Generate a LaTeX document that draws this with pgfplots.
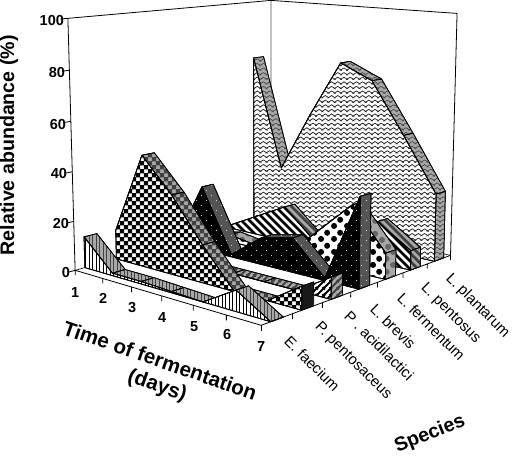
\documentclass[border=0pt]{standalone}
\usepackage{fontspec}
\setmainfont{Liberation Sans}
\usepackage{pgfplots}
\pgfplotsset{compat=1.18}
\usetikzlibrary{patterns}
% ---------- fill patterns (1pt = 1 reference pixel); boxes overlap the tile to avoid seams
\pgfdeclarepatternformonly{vlines}{\pgfqpoint{-1pt}{-1pt}}{\pgfqpoint{4.5pt}{4.5pt}}{\pgfqpoint{3.5pt}{3.5pt}}{
  \pgfsetlinewidth{1.2pt}\pgfpathmoveto{\pgfqpoint{1.7pt}{-1pt}}\pgfpathlineto{\pgfqpoint{1.7pt}{4.5pt}}\pgfusepath{stroke}}
\pgfdeclarepatternformonly{checker}{\pgfqpoint{-0.5pt}{-0.5pt}}{\pgfqpoint{8.5pt}{8.5pt}}{\pgfqpoint{8pt}{8pt}}{
  \pgfpathrectangle{\pgfqpoint{0pt}{0pt}}{\pgfqpoint{4.1pt}{4.1pt}}
  \pgfpathrectangle{\pgfqpoint{4pt}{4pt}}{\pgfqpoint{4.1pt}{4.1pt}}\pgfusepath{fill}}
\pgfdeclarepatternformonly{fwd}{\pgfqpoint{0pt}{0pt}}{\pgfqpoint{6.5pt}{6.5pt}}{\pgfqpoint{6.5pt}{6.5pt}}{
  \pgfsetlinewidth{2pt}\pgfpathmoveto{\pgfqpoint{-1pt}{-1pt}}\pgfpathlineto{\pgfqpoint{7.5pt}{7.5pt}}
  \pgfpathmoveto{\pgfqpoint{-1pt}{5.5pt}}\pgfpathlineto{\pgfqpoint{1pt}{7.5pt}}
  \pgfpathmoveto{\pgfqpoint{5.5pt}{-1pt}}\pgfpathlineto{\pgfqpoint{7.5pt}{1pt}}\pgfusepath{stroke}}
\pgfdeclarepatternformonly{bwd}{\pgfqpoint{0pt}{0pt}}{\pgfqpoint{8pt}{8pt}}{\pgfqpoint{8pt}{8pt}}{
  \pgfsetlinewidth{2.6pt}\pgfpathmoveto{\pgfqpoint{-1pt}{9pt}}\pgfpathlineto{\pgfqpoint{9pt}{-1pt}}
  \pgfpathmoveto{\pgfqpoint{-1pt}{1pt}}\pgfpathlineto{\pgfqpoint{1pt}{-1pt}}
  \pgfpathmoveto{\pgfqpoint{7pt}{9pt}}\pgfpathlineto{\pgfqpoint{9pt}{7pt}}\pgfusepath{stroke}}
\pgfdeclarepatternformonly{tiny}{\pgfqpoint{0pt}{0pt}}{\pgfqpoint{10pt}{10pt}}{\pgfqpoint{10pt}{10pt}}{
  \pgfpathcircle{\pgfqpoint{2.5pt}{2.5pt}}{0.55pt}\pgfpathcircle{\pgfqpoint{7.5pt}{7.5pt}}{0.55pt}\pgfusepath{fill}}
\pgfdeclarepatternformonly{bigdots}{\pgfqpoint{0pt}{0pt}}{\pgfqpoint{12.6pt}{12.6pt}}{\pgfqpoint{12.6pt}{12.6pt}}{
  \pgfpathcircle{\pgfqpoint{3.15pt}{3.15pt}}{3.1pt}\pgfpathcircle{\pgfqpoint{9.45pt}{9.45pt}}{3.1pt}\pgfusepath{fill}}
\pgfdeclarepatternformonly{wave}{\pgfqpoint{-1pt}{-1pt}}{\pgfqpoint{7.2pt}{5.6pt}}{\pgfqpoint{6.2pt}{4.6pt}}{
  \pgfsetlinewidth{0.75pt}\pgfpathmoveto{\pgfqpoint{-1pt}{0.4pt}}\pgfpathlineto{\pgfqpoint{0pt}{1pt}}\pgfpathlineto{\pgfqpoint{3.1pt}{3pt}}\pgfpathlineto{\pgfqpoint{6.2pt}{1pt}}\pgfpathlineto{\pgfqpoint{7.2pt}{0.4pt}}\pgfusepath{stroke}}
\definecolor{bandgray}{gray}{0.66}
\definecolor{darkband}{gray}{0.33}
% ---------- one polygon: day, species index, back flag (0 front face, 1 back face), abundance
\newcommand\Poly[2]{\addplot[forget plot,line join=round,#1] table[row sep=\\,
   x expr={pX(\thisrow{d},\thisrow{s}+0.3+0.4*\thisrow{b},\thisrow{z})},
   y expr={pY(\thisrow{d},\thisrow{s}+0.3+0.4*\thisrow{b},\thisrow{z})}] {d s b z\\ #2};}
\newcommand\Q[6]{\Poly{draw=black,line width=0.7pt,#6}{#2 #1 0 #3\\ #4 #1 0 #5\\ #4 #1 1 #5\\ #2 #1 1 #3\\ #2 #1 0 #3\\}}
% ---------- #1 species index, #2..#8 abundance on days 1..7, #9 style prefix
\newcommand\Series[9]{%
  \Q{#1}{1}{#2}{2}{#3}{band#9}\Q{#1}{2}{#3}{3}{#4}{band#9}\Q{#1}{3}{#4}{4}{#5}{band#9}%
  \Q{#1}{4}{#5}{5}{#6}{band#9}\Q{#1}{5}{#6}{6}{#7}{band#9}\Q{#1}{6}{#7}{7}{#8}{band#9}%
  \Poly{draw=black,line width=0.7pt,end#9}{7 #1 0 0\\ 7 #1 1 0\\ 7 #1 1 #8\\ 7 #1 0 #8\\ 7 #1 0 0\\}%
  \Poly{draw=black,line width=0.8pt,front#9}{1 #1 0 0\\ 1 #1 0 #2\\ 2 #1 0 #3\\ 3 #1 0 #4\\ 4 #1 0 #5\\ 5 #1 0 #6\\ 6 #1 0 #7\\ 7 #1 0 #8\\ 7 #1 0 0\\ 1 #1 0 0\\}%
}
\tikzset{
 frontA/.style={preaction={fill=white},pattern=vlines},
 bandA/.style={preaction={fill=bandgray},pattern=vlines,pattern color=black!75},
 endA/.style={preaction={fill=bandgray},pattern=vlines,pattern color=black!75},
 frontB/.style={preaction={fill=white},pattern=checker},
 bandB/.style={preaction={fill=bandgray},pattern=checker,pattern color=black!75},
 endB/.style={fill=black!90},
 frontC/.style={preaction={fill=white},pattern=fwd},
 bandC/.style={preaction={fill=bandgray},pattern=fwd,pattern color=black!75},
 endC/.style={preaction={fill=bandgray},pattern=fwd,pattern color=black!75},
 frontD/.style={preaction={fill=black},pattern=tiny,pattern color=white!80!black},
 bandD/.style={preaction={fill=darkband},pattern=tiny,pattern color=white!80!black},
 endD/.style={preaction={fill=darkband},pattern=tiny,pattern color=white!80!black},
 frontE/.style={preaction={fill=white},pattern=bigdots},
 bandE/.style={preaction={fill=bandgray},pattern=bigdots,pattern color=black!60},
 endE/.style={preaction={fill=bandgray},pattern=bigdots,pattern color=black!60},
 frontF/.style={preaction={fill=white},pattern=bwd},
 bandF/.style={preaction={fill=bandgray},pattern=bwd,pattern color=black!75},
 endF/.style={preaction={fill=bandgray},pattern=bwd,pattern color=black!75},
 frontG/.style={preaction={fill=white},pattern=wave,pattern color=black!85},
 bandG/.style={preaction={fill=bandgray},pattern=wave,pattern color=black!70},
 endG/.style={preaction={fill=bandgray},pattern=wave,pattern color=black!70},
}
\newcommand\Edge[1]{\Poly{black,line width=0.8pt}{#1}}
\begin{document}
\begin{tikzpicture}
\begin{axis}[
  x=1pt,y=1pt,xmin=0,xmax=512,ymin=0,ymax=457,y dir=reverse,
  hide axis,clip=false,scale only axis,
  declare function={
    pW(\d,\s,\z)=1-0.1289*(\d-1)/6+0.1712*\s/7-0.0361*\z/100;
    pX(\d,\s,\z)=(75+152.4*(\d-1)/6+242.2*\s/7-9.67*\z/100)/pW(\d,\s,\z);
    pY(\d,\s,\z)=(270+13.1*(\d-1)/6-17.3*\s/7-252.7*\z/100)/pW(\d,\s,\z);
  }]
\path (axis cs:0,0) rectangle (axis cs:512,457);
% walls and floor (species offset -0.3 cancels the 0.3 in \Poly)
\Edge{1 -0.3 0 0\\ 1 -0.3 0 100\\ 1 6.7 0 100\\ 7 6.7 0 100\\ 7 6.7 0 0\\ 7 -0.3 0 0\\ 1 -0.3 0 0\\}
\Poly{black!70,line width=0.8pt}{1 6.7 0 0\\ 1 6.7 0 100\\}
\Poly{black,line width=0.6pt}{1 -0.3 0 0\\ 1 6.7 0 0\\ 7 6.7 0 0\\}
% axis ticks
\Edge{1 -0.3 0 -2\\ 1 -0.3 0 0\\}\Edge{2 -0.3 0 -2\\ 2 -0.3 0 0\\}\Edge{3 -0.3 0 -2\\ 3 -0.3 0 0\\}
\Edge{4 -0.3 0 -2\\ 4 -0.3 0 0\\}\Edge{5 -0.3 0 -2\\ 5 -0.3 0 0\\}\Edge{6 -0.3 0 -2\\ 6 -0.3 0 0\\}\Edge{7 -0.3 0 -2\\ 7 -0.3 0 0\\}
\Edge{7 0.7 0 -2\\ 7 0.7 0 0\\}\Edge{7 1.7 0 -2\\ 7 1.7 0 0\\}\Edge{7 2.7 0 -2\\ 7 2.7 0 0\\}
\Edge{7 3.7 0 -2\\ 7 3.7 0 0\\}\Edge{7 4.7 0 -2\\ 7 4.7 0 0\\}\Edge{7 5.7 0 -2\\ 7 5.7 0 0\\}\Edge{7 6.7 0 -2\\ 7 6.7 0 0\\}
\Edge{1 -0.52 0 0\\ 1 -0.3 0 0\\}\Edge{1 -0.52 0 20\\ 1 -0.3 0 20\\}\Edge{1 -0.52 0 40\\ 1 -0.3 0 40\\}
\Edge{1 -0.52 0 60\\ 1 -0.3 0 60\\}\Edge{1 -0.52 0 80\\ 1 -0.3 0 80\\}\Edge{1 -0.52 0 100\\ 1 -0.3 0 100\\}
% series, back to front
\Series{6}{75}{27}{53}{77}{71}{50}{28}{G}
\Series{5}{1}{8}{15}{3}{3}{17}{8}{F}
\Series{4}{0}{3}{1}{1}{14}{27}{10.5}{E}
\Series{3}{0}{27}{1}{11}{14}{1}{36}{D}
\Series{2}{0}{0}{0}{0}{0}{0}{8.5}{C}
\Series{1}{12}{45.5}{32}{15}{0}{0}{9}{B}
\Series{0}{12.7}{1}{1}{0.5}{0}{8}{0}{A}
% text
\tikzset{tl/.style={font=\fontsize{14.5}{15}\selectfont\bfseries,inner sep=0pt},
         sl/.style={font=\fontsize{15}{16}\selectfont,inner sep=0pt,rotate=-45,anchor=west},
         ti/.style={font=\fontsize{19.6}{21}\selectfont\bfseries,inner sep=0pt}}
\node[tl,anchor=east] at (axis cs:64,20) {100};
\node[tl,anchor=east] at (axis cs:65,72) {80};
\node[tl,anchor=east] at (axis cs:66,124) {60};
\node[tl,anchor=east] at (axis cs:67,173) {40};
\node[tl,anchor=east] at (axis cs:69,223) {20};
\node[tl,anchor=east] at (axis cs:70,272) {0};
\node[tl] at (axis cs:75,292) {1};
\node[tl] at (axis cs:103,298) {2};
\node[tl] at (axis cs:132,307) {3};
\node[tl] at (axis cs:162,317) {4};
\node[tl] at (axis cs:194,326) {5};
\node[tl] at (axis cs:227,334) {6};
\node[tl] at (axis cs:261,346) {7};
\node[sl] at (axis cs:287,338) {E. faecium};
\node[sl] at (axis cs:317,325) {P. pentosaceus};
\node[sl] at (axis cs:347,313) {P . acidilactici};
\node[sl] at (axis cs:373,306) {L. brevis};
\node[sl] at (axis cs:400,295) {L. fermentum};
\node[sl] at (axis cs:423,286) {L. pentosus};
\node[sl] at (axis cs:448,276) {L. plantarum};
\node[ti,rotate=90] at (axis cs:9,145) {Relative abundance (\%)};
\node[ti,font=\fontsize{20.6}{22}\selectfont\bfseries,rotate=-19] at (axis cs:160,360) {Time of fermentation};
\node[ti,font=\fontsize{20.6}{22}\selectfont\bfseries,rotate=-19] at (axis cs:157,386) {(days)};
\node[ti,rotate=22] at (axis cs:430,434) {Species};
\end{axis}
\end{tikzpicture}
\end{document}
